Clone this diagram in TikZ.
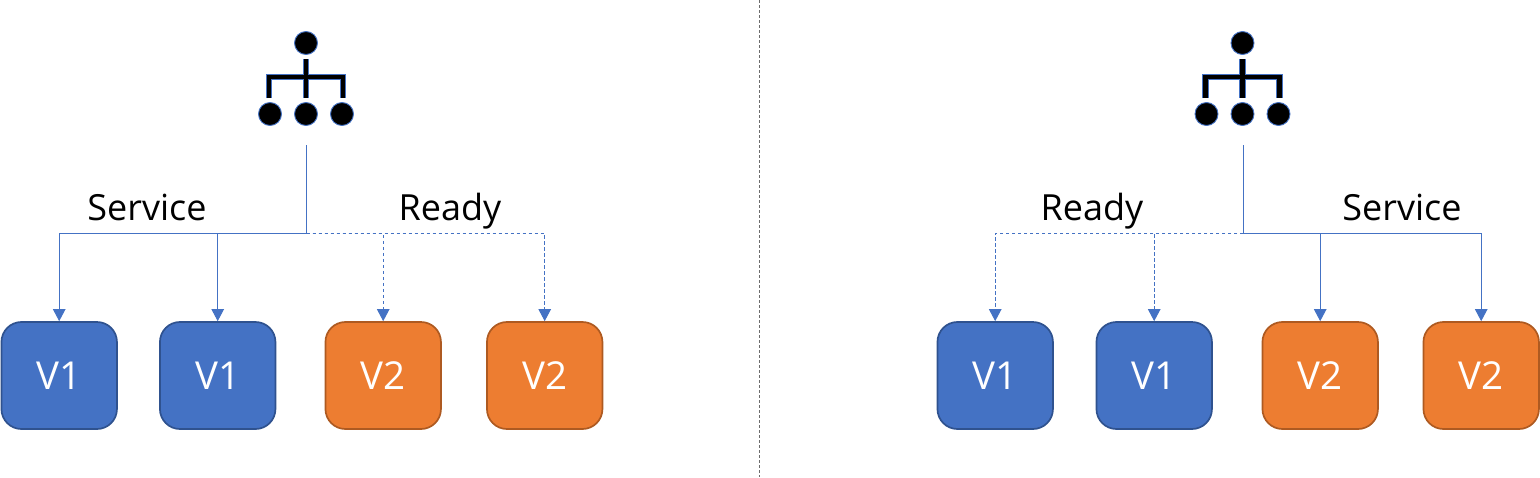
\documentclass[tikz,border=0pt]{standalone}
\usepackage{fontspec}
\setmainfont{Open Sans}
\usetikzlibrary{arrows.meta}
\definecolor{cblue}{HTML}{4472C4}
\definecolor{cbluedk}{HTML}{2F528F}
\definecolor{corange}{HTML}{ED7D31}
\definecolor{corangedk}{HTML}{AE5A21}
\tikzset{
  x=1pt,y=-1pt,
  vbox/.style={rectangle,rounded corners=20pt,minimum width=115.5pt,minimum height=107pt,inner sep=0pt,line width=1.7pt,text=white,font=\fontsize{38.5}{42}\selectfont},
  vone/.style={vbox,fill=cblue,draw=cbluedk},
  vtwo/.style={vbox,fill=corange,draw=corangedk},
  lbl/.style={font=\fontsize{36}{40}\selectfont,text=black,inner sep=0pt,anchor=base},
  dot/.style={circle,fill=black,draw=cblue,line width=0.9pt,minimum size=23pt,inner sep=0pt},
  conn/.style={draw=cblue,line width=1pt,-{Triangle[length=12pt,width=12.5pt]}},
  dconn/.style={conn,dash pattern=on 3.5pt off 2.5pt},
  trunk/.style={draw=cblue,line width=1pt},
  barO/.style={draw=cblue,line width=6.4pt},
  barI/.style={draw=black,line width=4.2pt},
  divider/.style={draw=gray!85!black,line width=0.7pt,dash pattern=on 3pt off 2pt},
}
\newcommand{\orgicon}[2]{%
  \node[dot] (#2t) at (#1,43) {};
  \node[dot] (#2l) at (#1-36,114) {};
  \node[dot] (#2m) at (#1,114) {};
  \node[dot] (#2r) at (#1+36,114) {};
  \foreach \s/\c in {barO/0,barI/1}{
    \draw[\s] (#1,59) -- (#1,98);
    \draw[\s] (#1-37,98) -- (#1-37,77) -- (#1+37,77) -- (#1+37,98);
  }
}
\begin{document}
\begin{tikzpicture}
\useasboundingbox (0,0) rectangle (1540,477);
\coordinate (dt) at (759,0);
\coordinate (db) at (759,477);
\draw[divider] (dt) -- (db);
% left
\orgicon{306}{a}
\coordinate (ah) at (306.7,145);
\coordinate (aj) at (306.7,233.3);
\node[vone] (a1) at (59.2,375.5) {V1};
\node[vone] (a2) at (217.7,375.5) {V1};
\node[vtwo] (a3) at (383.2,375.5) {V2};
\node[vtwo] (a4) at (544.7,375.5) {V2};
\draw[trunk] (ah) -- (aj);
\draw[conn] (aj) -| (a1.north);
\draw[conn] (aj) -| (a2.north);
\draw[dconn] (aj) -| (a3.north);
\draw[dconn] (aj) -| (a4.north);
\node[lbl] (as) at (147,220) {Service};
\node[lbl] (ar) at (450,220) {Ready};
% right
\orgicon{1242.5}{b}
\coordinate (bh) at (1243.2,145);
\coordinate (bj) at (1243.2,233.3);
\node[vone] (b1) at (995.2,375.5) {V1};
\node[vone] (b2) at (1154.2,375.5) {V1};
\node[vtwo] (b3) at (1320.2,375.5) {V2};
\node[vtwo] (b4) at (1481.2,375.5) {V2};
\draw[trunk] (bh) -- (bj);
\draw[dconn] (bj) -| (b1.north);
\draw[dconn] (bj) -| (b2.north);
\draw[conn] (bj) -| (b3.north);
\draw[conn] (bj) -| (b4.north);
\node[lbl] (br) at (1092,220) {Ready};
\node[lbl] (bs) at (1402,220) {Service};
\end{tikzpicture}
\end{document}
